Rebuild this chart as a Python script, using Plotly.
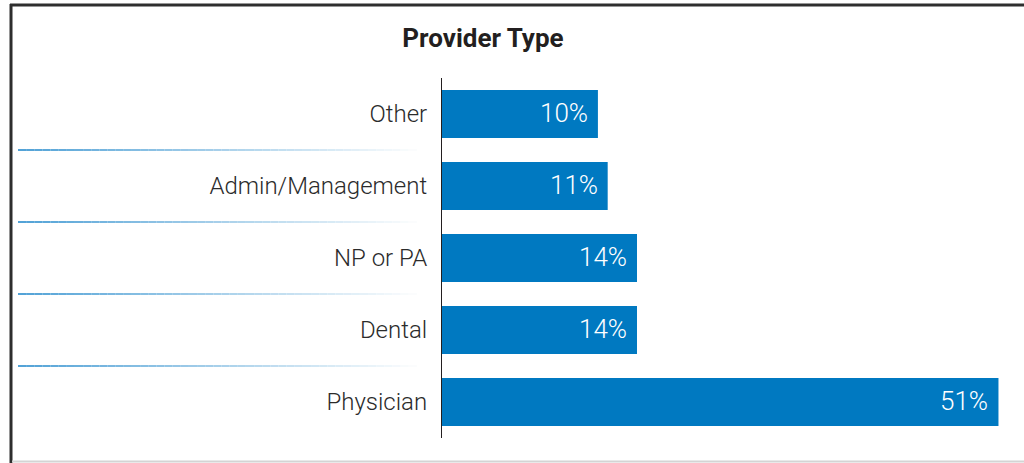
import plotly.graph_objects as go

categories = ["Physician", "Dental", "NP or PA", "Admin/Management", "Other"]
values = [51, 14, 14, 11, 10]
labels = [f"{v}%" for v in values]
title_text = "Provider Type"

W, H = 1024, 463
L, R, T, B = 442, 14, 78, 25
PW = W - L - R
PH = H - T - B
OFFSET = -5.96
XMAX = 52.18

BAR = "#0079C1"
TXT = "#2b2b2b"


def px_x(px):
    return (px - L) / PW


def px_y(py):
    return (H - B - py) / PH


fig = go.Figure()
fig.add_trace(go.Bar(
    y=categories,
    x=[v - OFFSET for v in values],
    base=OFFSET,
    orientation="h",
    marker=dict(color=BAR, line=dict(width=0)),
    hoverinfo="skip",
    width=0.67,
))

annotations = []
for c, v, t in zip(categories, values, labels):
    annotations.append(dict(x=v, y=c, xref="x", yref="y", text=t, showarrow=False,
                            xanchor="right", yanchor="middle", xshift=-8, yshift=1,
                            font=dict(family="Roboto", size=26, color="white", weight=300)))

shapes = []
# gradient separators
n = len(categories)
segs = 50
x0p, x1p = 18, 425
c0 = (40, 140, 205)
c1 = (255, 255, 255)
for i in range(1, n):
    yp = i / n
    for s in range(segs):
        t = s / (segs - 1)
        col = tuple(int(c0[k] + (c1[k] - c0[k]) * t) for k in range(3))
        xa = x0p + (x1p - x0p) * s / segs
        xb = x0p + (x1p - x0p) * (s + 1) / segs
        shapes.append(dict(type="line", xref="paper", yref="paper",
                           x0=px_x(xa), x1=px_x(xb), y0=yp, y1=yp,
                           line=dict(color=f"rgb{col}", width=1.6), layer="above"))

# frame
shapes.append(dict(type="line", xref="paper", yref="paper",
                   x0=px_x(11), x1=px_x(11), y0=px_y(4), y1=px_y(463),
                   line=dict(color="#2e2e2e", width=3)))
shapes.append(dict(type="line", xref="paper", yref="paper",
                   x0=px_x(10), x1=px_x(1024), y0=px_y(5), y1=px_y(5),
                   line=dict(color="#2e2e2e", width=3)))
shapes.append(dict(type="line", xref="paper", yref="paper",
                   x0=px_x(12), x1=px_x(1024), y0=px_y(461.5), y1=px_y(461.5),
                   line=dict(color="#d4d4d4", width=2)))

fig.update_layout(
    width=W, height=H,
    margin=dict(l=L, r=R, t=T, b=B, pad=0),
    paper_bgcolor="white", plot_bgcolor="white",
    showlegend=False,
    title=dict(text=f"<b>{title_text}</b>", x=px_x(483), xref="paper", xanchor="center",
               y=1 - 38 / H, yanchor="middle",
               font=dict(family="Roboto", size=26, color="#231F20")),
    xaxis=dict(range=[OFFSET, XMAX], visible=False, fixedrange=True),
    yaxis=dict(type="category", range=[-0.5, n - 0.5], showline=True, linecolor="#231F20",
               linewidth=1, ticks="", showgrid=False, zeroline=False, fixedrange=True,
               ticklabelstandoff=9,
               tickfont=dict(family="Roboto", size=24, color=TXT, weight=300)),
    shapes=shapes,
    annotations=annotations,
)

fig.write_html("out.html", config={"displayModeBar": False},
               post_script="document.body.style.margin='0px';document.body.style.overflow='hidden';")
